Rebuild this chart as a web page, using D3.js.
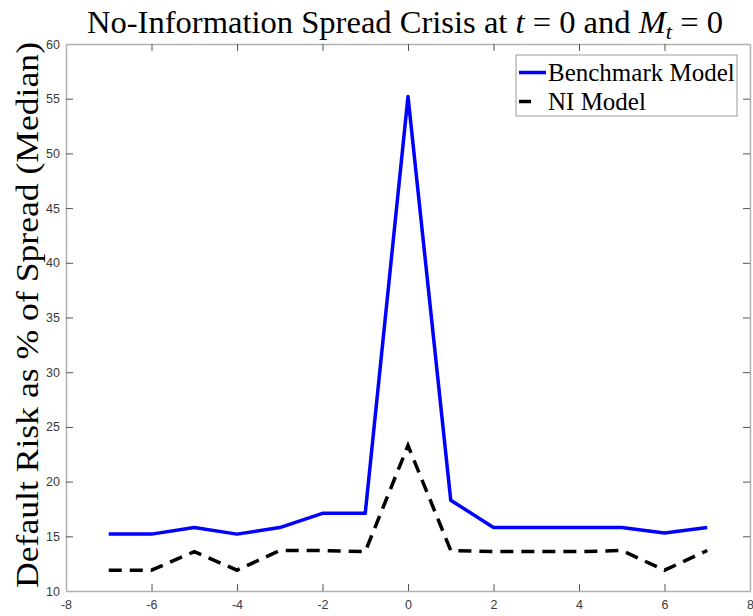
<!DOCTYPE html>
<html>
<head>
<meta charset="utf-8">
<script src="https://cdn.jsdelivr.net/npm/d3@7"></script>
<style>
  html, body { margin: 0; padding: 0; background: #fff; }
  svg { display: block; }
</style>
</head>
<body>
<svg id="chart" width="753" height="616"></svg>
<script>
// ---- data ----
const periods = [-7, -6, -5, -4, -3, -2, -1, 0, 1, 2, 3, 4, 5, 6, 7];
const benchmark = [15.2, 15.2, 15.8, 15.2, 15.8, 17.1, 17.1, 55.2, 18.3, 15.8, 15.8, 15.8, 15.8, 15.3, 15.8];
const niModel   = [11.9, 11.9, 13.6, 11.9, 13.7, 13.7, 13.6, 23.3, 13.7, 13.6, 13.6, 13.6, 13.7, 11.9, 13.7];
const xTicks = [-8, -6, -4, -2, 0, 2, 4, 6, 8];
const yTicks = [10, 15, 20, 25, 30, 35, 40, 45, 50, 55, 60];
const seriesNames = ["Benchmark Model", "NI Model"];

const svg = d3.select("#chart");
const L = 66, R = 750, T = 44, B = 591;
const x = d3.scaleLinear().domain([-8, 8]).range([L, R]);
const y = d3.scaleLinear().domain([10, 60]).range([B, T]);

const tickFont = '"Liberation Sans Narrow", "Liberation Sans", Arial, sans-serif';
const serif = '"Liberation Serif", "DejaVu Serif", serif';
const axisColor = "#b0b0b0";
const tickColor = "#555";
const fmt = d => String(d);

// axes (box with inward ticks)
const gx = svg.append("g").attr("transform", `translate(0,${B})`)
  .call(d3.axisBottom(x).tickValues(xTicks).tickSizeInner(-7).tickSizeOuter(0).tickPadding(9).tickFormat(fmt));
const gxTop = svg.append("g").attr("transform", `translate(0,${T})`)
  .call(d3.axisTop(x).tickValues(xTicks).tickSizeInner(-7).tickSizeOuter(0).tickFormat(""));
const gy = svg.append("g").attr("transform", `translate(${L},0)`)
  .call(d3.axisLeft(y).tickValues(yTicks).tickSizeInner(-7).tickSizeOuter(0).tickPadding(6).tickFormat(fmt));
const gyR = svg.append("g").attr("transform", `translate(${R},0)`)
  .call(d3.axisRight(y).tickValues(yTicks).tickSizeInner(-7).tickSizeOuter(0).tickFormat(""));

[gx, gxTop, gy, gyR].forEach(g => {
  g.select(".domain").attr("stroke", axisColor).attr("stroke-width", 1.5);
  g.selectAll(".tick line").attr("stroke", tickColor).attr("stroke-width", 1);
  g.selectAll(".tick text").attr("fill", "#3a3a3a")
    .style("font-family", tickFont).style("font-size", "12.5px");
});
// hide end ticks that overlap the box edges
[gx, gxTop].forEach(g => g.selectAll(".tick").filter(d => d === -8 || d === 8).select("line").remove());
[gy, gyR].forEach(g => g.selectAll(".tick").filter(d => d === 10 || d === 60).select("line").remove());

// lines
const line = d3.line().x((d, i) => x(periods[i])).y(d => y(d));
svg.append("path").datum(benchmark)
  .attr("d", line).attr("fill", "none").attr("stroke", "#0000ff")
  .attr("stroke-width", 3.5).attr("stroke-linejoin", "round");
svg.append("path").datum(niModel)
  .attr("d", line).attr("fill", "none").attr("stroke", "#000")
  .attr("stroke-width", 3.5).attr("stroke-dasharray", "13,8");

// title
const title = svg.append("text").attr("x", 87).attr("y", 33)
  .attr("textLength", 636).attr("lengthAdjust", "spacingAndGlyphs")
  .style("font-family", serif).style("font-size", "32px").attr("fill", "#000");
title.append("tspan").text("No-Information Spread Crisis at ");
title.append("tspan").style("font-style", "italic").text("t");
title.append("tspan").text(" = 0 and ");
title.append("tspan").style("font-style", "italic").text("M");
title.append("tspan").style("font-style", "italic").style("font-size", "22px").attr("dy", 6).text("t");
title.append("tspan").attr("dy", -6).text(" = 0");

// y label
svg.append("text")
  .attr("transform", `translate(38,588) rotate(-90)`)
  .attr("textLength", 546).attr("lengthAdjust", "spacingAndGlyphs")
  .style("font-family", serif).style("font-size", "31px")
  .attr("fill", "#000").text("Default Risk as % of Spread (Median)");

// legend
const lg = svg.append("g");
lg.append("rect").attr("x", 516).attr("y", 55).attr("width", 221).attr("height", 61)
  .attr("fill", "#fff").attr("stroke", "#999").attr("stroke-width", 1);
const legendStyles = [{ c: "#0000ff", dash: null, y: 72.5 }, { c: "#000", dash: "12,30", y: 101.5 }];
seriesNames.forEach((name, i) => {
  const s = legendStyles[i];
  const l = lg.append("line").attr("x1", 519).attr("x2", 546).attr("y1", s.y).attr("y2", s.y)
    .attr("stroke", s.c).attr("stroke-width", 3.5);
  if (s.dash) l.attr("stroke-dasharray", s.dash);
  lg.append("text").attr("x", 548).attr("y", s.y + 8).style("font-family", serif)
    .style("font-size", "25px").attr("fill", "#000").text(name);
});
</script>
</body>
</html>
